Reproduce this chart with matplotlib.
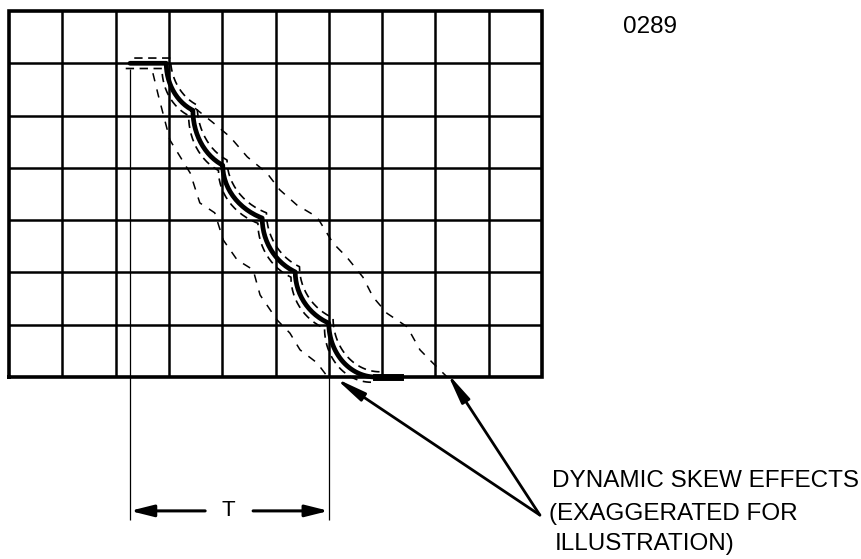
import numpy as np
import matplotlib.pyplot as plt

plt.rcParams['font.family'] = ['Liberation Sans', 'DejaVu Sans']
plt.rcParams['lines.scale_dashes'] = False

# screen graticule: 10 x 7 divisions
ncols = 10
nrows = 7

# staircase corners (divisions), trace drops then settles into each step
step_x = [2.95, 3.45, 4.01, 4.75, 5.37, 6.00, 6.88]
step_y = [6.00, 5.10, 4.05, 3.04, 2.01, 1.03, 0.00]
start_x = 2.27
end_x = 7.34

# dashed skew envelopes
left_x = [2.70, 2.80, 3.02, 3.40, 3.58, 3.86, 4.02, 4.28, 4.58, 4.71, 5.03, 5.27, 5.46, 5.78, 5.98]
left_y = [5.81, 5.39, 4.53, 3.90, 3.33, 3.14, 2.62, 2.24, 2.05, 1.57, 1.09, 0.84, 0.52, 0.27, 0.00]
right_x = [3.49, 3.81, 4.15, 4.47, 4.84, 5.08, 5.40, 5.78, 6.08, 6.34, 6.64, 6.83, 7.09, 7.47, 7.71, 7.95, 8.22]
right_y = [5.14, 4.88, 4.59, 4.21, 3.90, 3.58, 3.29, 3.06, 2.56, 2.29, 1.91, 1.53, 1.22, 0.96, 0.52, 0.27, 0.00]

label_lines = ["DYNAMIC SKEW EFFECTS", "(EXAGGERATED FOR", "ILLUSTRATION)"]
fig_id = "0289"

# build the staircase trace: each step leaves vertically and bends part way round
tx = [start_x, step_x[0]]
ty = [step_y[0], step_y[0]]
T = 1.15
t = np.linspace(0, T, 30)
for i in range(len(step_x) - 1):
    xa, ya = step_x[i], step_y[i]
    xb, yb = step_x[i + 1], step_y[i + 1]
    if i == len(step_x) - 2:
        tt = np.linspace(0, np.pi / 2, 30)
        tx += list(xa + (xb - xa) * (1 - np.cos(tt)))
        ty += list(ya - (ya - yb) * np.sin(tt))
    else:
        tx += list(xa + (xb - xa) * (1 - np.cos(t)) / (1 - np.cos(T)))
        ty += list(ya - (ya - yb) * np.sin(t) / np.sin(T))
tx = np.array(tx)
ty = np.array(ty)

fig = plt.figure(figsize=(8.61, 5.59), dpi=100)
ax = fig.add_axes([0, 0, 1, 1])
ax.set_xlim(-0.169, 15.985)
ax.set_ylim(-3.48, 7.21)
ax.axis('off')

# graticule
ax.vlines(np.arange(1, ncols), 0, nrows, color='k', lw=1.8)
ax.hlines(np.arange(1, nrows), 0, ncols, color='k', lw=1.8)
ax.plot([0, ncols, ncols, 0, 0], [0, 0, nrows, nrows, 0], color='k', lw=2.6, solid_joinstyle='miter')

# dashed echoes of trace
ax.plot(tx + 0.08, ty + 0.10, color='k', lw=1.2, ls=(0, (6, 4)))
ax.plot(tx - 0.08, ty - 0.10, color='k', lw=1.2, ls=(0, (6, 4)))
ax.plot(left_x, left_y, color='k', lw=1.1, ls=(0, (6, 6)))
ax.plot(right_x, right_y, color='k', lw=1.1, ls=(0, (6, 6)))

# main trace
ax.plot(tx, ty, color='k', lw=3.4, solid_capstyle='round', solid_joinstyle='round')
ax.plot([step_x[-1], end_x], [0, 0], color='k', lw=5)

# period T dimension
ax.vlines([start_x], -2.73, 5.9, color='k', lw=0.9)
ax.vlines([step_x[-2]], -2.73, 0, color='k', lw=0.9)
ax.annotate('', xy=(start_x, -2.56), xytext=(3.68, -2.56),
            arrowprops=dict(arrowstyle='-|>,head_length=1.4,head_width=0.35', color='k', lw=2.2, shrinkA=0, shrinkB=0))
ax.annotate('', xy=(step_x[-2], -2.56), xytext=(4.58, -2.56),
            arrowprops=dict(arrowstyle='-|>,head_length=1.4,head_width=0.35', color='k', lw=2.2, shrinkA=0, shrinkB=0))
ax.text(4.12, -2.56, "T", fontsize=16, ha='center', va='center')

# callout arrows
ax.annotate('', xy=(6.12, -0.02), xytext=(9.96, -2.64),
            arrowprops=dict(arrowstyle='-|>,head_length=1.8,head_width=0.28', color='k', lw=2.0, shrinkA=0, shrinkB=0))
ax.annotate('', xy=(8.22, 0.08), xytext=(9.96, -2.64),
            arrowprops=dict(arrowstyle='-|>,head_length=1.8,head_width=0.28', color='k', lw=2.0, shrinkA=0, shrinkB=0))

ax.text(10.19, -2.10, label_lines[0], fontsize=17.5, va='baseline')
ax.text(10.13, -2.73, label_lines[1], fontsize=17.5, va='baseline')
ax.text(10.24, -3.31, label_lines[2], fontsize=17.5, va='baseline')
ax.text(11.52, 6.58, fig_id, fontsize=17.5, va='baseline')

plt.savefig("out.png", dpi=100)
